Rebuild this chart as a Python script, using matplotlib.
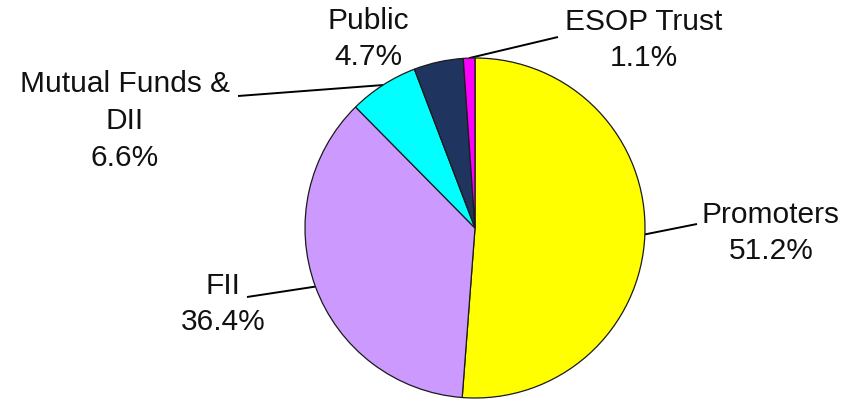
import numpy as np
import matplotlib
matplotlib.use("Agg")
import matplotlib.pyplot as plt

categories = ["Promoters", "FII", "Mutual Funds &\nDII", "Public", "ESOP Trust"]
values = [51.2, 36.4, 6.6, 4.7, 1.1]
colors = ["#FFFF00", "#CC99FF", "#00FFFF", "#1F3560", "#FF00FF"]

W, H = 844, 401
fig = plt.figure(figsize=(W / 100, H / 100), dpi=100)
ax = fig.add_axes([0, 0, 1, 1])

cx, cy, r = 475, H - 228, 170
wedges, _ = ax.pie(values, colors=colors, startangle=90, counterclock=False,
                   center=(cx, cy), radius=r,
                   wedgeprops=dict(edgecolor="#1a1a1a", linewidth=0.9))
ax.set_xlim(0, W)
ax.set_ylim(0, H)
ax.set_aspect("equal")
ax.axis("off")

# label block centers (pixel coords) and leader line end points
label_pos = [(771, 233), (223, 304), (125, 121), (368, 39), (644, 40)]
leader_end = [(697, 224), (247, 297), (238, 96), None, (558, 37)]

for w, cat, v, (tx, ty), le in zip(wedges, categories, values, label_pos, leader_end):
    mid = np.deg2rad((w.theta1 + w.theta2) / 2)
    px, py = cx + r * np.cos(mid), cy + r * np.sin(mid)
    if le is not None:
        ax.plot([px, le[0]], [py, H - le[1]], color="black", lw=1.4,
                solid_capstyle="butt", zorder=0.5)
    ax.text(tx, H - ty, f"{cat}\n{v}%", ha="center", va="center",
            multialignment="center", fontsize=21.5, family="Liberation Sans",
            linespacing=1.4, color="#111111")

fig.savefig("out.png", dpi=100)
